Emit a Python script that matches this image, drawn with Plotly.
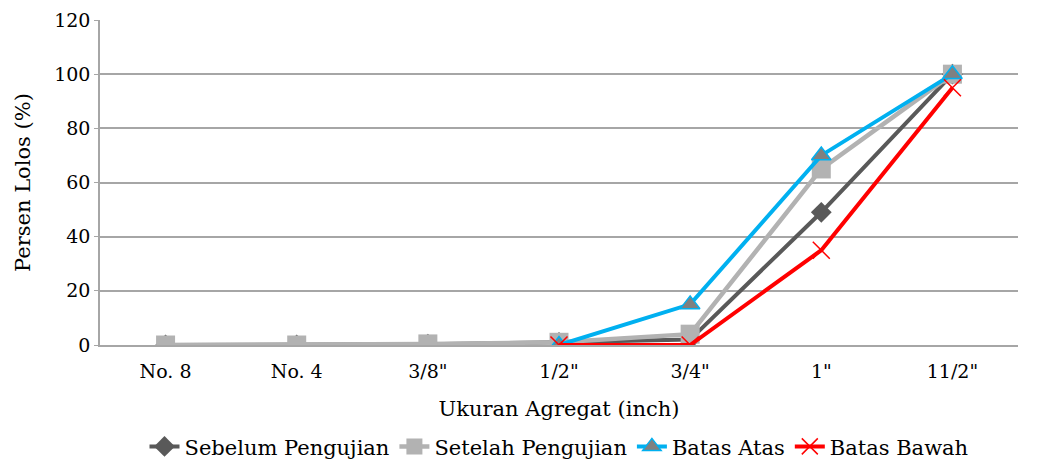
import plotly.graph_objects as go

categories = ["No. 8", "No. 4", "3/8\"", "1/2\"", "3/4\"", "1\"", "11/2\""]
sebelum = [0.0, 0.0, 0.3, 1.0, 2.0, 49.0, 100.0]
setelah = [0.0, 0.0, 0.4, 1.0, 4.0, 65.0, 100.0]
batas_atas = [None, None, None, 0.0, 15.0, 70.0, 100.0]
batas_bawah = [None, None, None, 0.0, 0.0, 35.0, 95.0]

FONT = "DejaVu Serif"

fig = go.Figure()
fig.add_trace(go.Scatter(
    x=categories, y=sebelum, name="Sebelum Pengujian", mode="lines+markers",
    line=dict(color="#595959", width=4),
    marker=dict(symbol="diamond", size=16, color="#595959"),
))
fig.add_trace(go.Scatter(
    x=categories, y=setelah, name="Setelah Pengujian", mode="lines+markers",
    line=dict(color="#b2b2b2", width=4.5),
    marker=dict(symbol="square", size=19, color="#b2b2b2"),
))
fig.add_trace(go.Scatter(
    x=categories, y=batas_atas, name="Batas Atas", mode="lines+markers",
    line=dict(color="#00b0f0", width=4),
    marker=dict(symbol="triangle-up", size=17, color="#808080",
                line=dict(color="#00b0f0", width=1.5)),
))
fig.add_trace(go.Scatter(
    x=categories, y=batas_bawah, name="Batas Bawah", mode="lines+markers",
    line=dict(color="#ff0000", width=4),
    marker=dict(symbol="x-thin", size=17, color="#ff0000",
                line=dict(color="#ff0000", width=1.5)),
))

fig.update_layout(
    width=1049, height=468,
    margin=dict(l=100, r=31, t=20, b=123, autoexpand=False),
    paper_bgcolor="white", plot_bgcolor="white",
    font=dict(family=FONT, size=19, color="black"),
    xaxis=dict(
        type="category", showgrid=False, showline=True, linecolor="#a6a6a6",
        linewidth=1.5, ticks="", tickfont=dict(family=FONT, size=19),
        ticklabelstandoff=8,
        title=dict(text="Ukuran Agregat (inch)", font=dict(family=FONT, size=21), standoff=21),
        range=[-0.5, 6.5], automargin=False,
    ),
    yaxis=dict(
        range=[0, 120], dtick=20, showgrid=True, gridcolor="#a6a6a6", gridwidth=1.5,
        showline=True, linecolor="#a6a6a6", linewidth=1.5, ticks="outside",
        ticklen=4, tickcolor="#a6a6a6", tickfont=dict(family=FONT, size=19),
        title=dict(text="Persen Lolos (%)", font=dict(family=FONT, size=21), standoff=18),
        zeroline=False, automargin=False,
    ),
    legend=dict(orientation="h", x=0.5, xanchor="center", y=-0.25, yanchor="top",
                font=dict(family=FONT, size=21), itemwidth=30, tracegroupgap=0,
                bgcolor="rgba(0,0,0,0)"),
    showlegend=True,
)

fig.write_html("out.html")
